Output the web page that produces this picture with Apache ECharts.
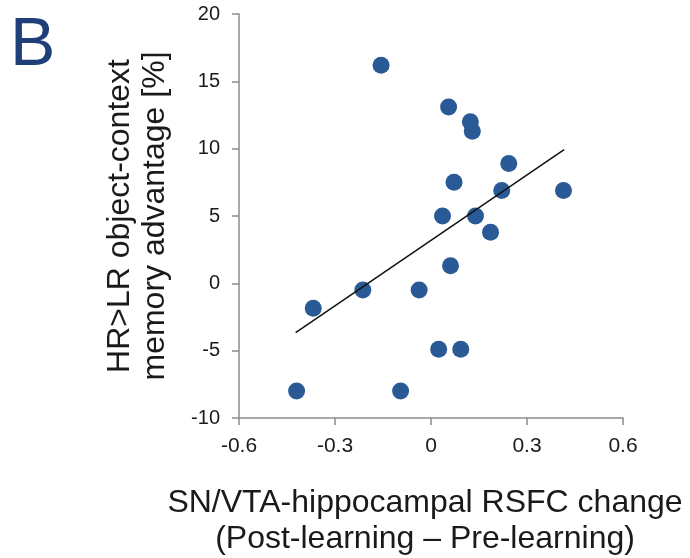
<!DOCTYPE html>
<html><head><meta charset="utf-8">
<script src="https://cdn.jsdelivr.net/npm/echarts@6/dist/echarts.min.js"></script>
<style>html,body{margin:0;padding:0;background:#fff}#c{width:690px;height:558px}</style>
</head><body><div id="c"></div>
<script>
const xValues = [-0.156, 0.055, 0.123, 0.129, 0.243, 0.072, 0.221, 0.414, 0.036, 0.139, 0.186, 0.061, -0.368, -0.213, -0.037, 0.024, 0.093, -0.42, -0.095];
const yValues = [16.2, 13.1, 12.0, 11.3, 8.9, 7.5, 6.9, 6.9, 5.0, 5.0, 3.8, 1.3, -1.85, -0.5, -0.5, -4.9, -4.9, -8.0, -8.0];
const trendX = [-0.423, 0.416];
const trendY = [-3.66, 9.92];
const xTicks = [-0.6, -0.3, 0, 0.3, 0.6];
const yTicks = [-10, -5, 0, 5, 10, 15, 20];

const points = xValues.map((x, i) => [x, yValues[i]]);
const trend = trendX.map((x, i) => [x, trendY[i]]);
const font = 'Liberation Sans, Arial, sans-serif';
const fmt = ticks => v => { const t = ticks.find(k => Math.abs(k - v) < 1e-9); return t === undefined ? '' : String(t); };
const chart = echarts.init(document.getElementById('c'));
chart.setOption({
  animation: false,
  backgroundColor: '#fff',
  grid: {left: 239, right: 67, top: 14, bottom: 140, containLabel: false, outerBoundsMode: 'none'},
  graphic: [{type: 'text', x: 10, y: 12, style: {text: 'B', font: '68px ' + font, fill: '#1f3f78'}}],
  xAxis: {
    type: 'value', min: -0.6, max: 0.6, interval: 0.3,
    axisLine: {show: true, onZero: false, lineStyle: {color: '#8c8c8c', width: 1.5}},
    axisTick: {show: true, length: 7, lineStyle: {color: '#8c8c8c', width: 1.5}},
    splitLine: {show: false},
    axisLabel: {color: '#1a1a1a', fontSize: 21, fontFamily: font, margin: 18, formatter: fmt(xTicks)},
    name: 'SN/VTA-hippocampal RSFC change\n(Post-learning \u2013 Pre-learning)',
    nameLocation: 'middle', nameGap: 67,
    nameTextStyle: {color: '#1a1a1a', fontSize: 32, fontFamily: font, lineHeight: 36, padding: [0, 12, 0, 0]}
  },
  yAxis: {
    type: 'value', min: -10, max: 20, interval: 5,
    axisLine: {show: true, onZero: false, lineStyle: {color: '#8c8c8c', width: 1.5}},
    axisTick: {show: true, length: 7, lineStyle: {color: '#8c8c8c', width: 1.5}},
    splitLine: {show: false},
    axisLabel: {color: '#1a1a1a', fontSize: 20, fontFamily: font, margin: 19, formatter: fmt(yTicks)},
    name: 'HR>LR object-context\nmemory advantage [%]',
    nameLocation: 'middle', nameGap: 66, nameRotate: 90,
    nameTextStyle: {color: '#1a1a1a', fontSize: 32, fontFamily: font, lineHeight: 35}
  },
  series: [
    {type: 'line', data: trend, symbol: 'none', lineStyle: {color: '#111', width: 1.5}, z: 3},
    {type: 'scatter', data: points, symbolSize: 17, itemStyle: {color: '#2a5a96', opacity: 1}, z: 2}
  ]
});
</script></body></html>
